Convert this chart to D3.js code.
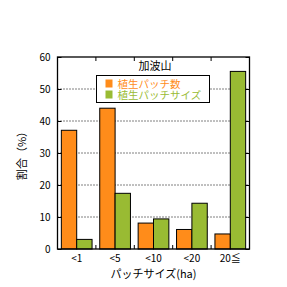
<!DOCTYPE html>
<html>
<head>
<meta charset="utf-8">
<script src="https://cdn.jsdelivr.net/npm/d3@7"></script>
<style>
  body { margin: 0; background: #fff; overflow: hidden; }
  svg { display: block; }
  text { font-family: "Noto Sans CJK JP", sans-serif; }
</style>
</head>
<body>
<div id="chart"></div>
<script>
// data
const categories = ['<1', '<5', '<10', '<20', '20≦'];
const series = ['植生パッチ数', '植生パッチサイズ'];
const patchCount = [37.1, 44.0, 8.1, 6.1, 4.7];
const patchSize = [3.0, 17.4, 9.4, 14.3, 55.5];
const yTicks = [0, 10, 20, 30, 40, 50, 60];
const colors = ['#ff8c1a', '#99bb33'];

const width = 287, height = 287;
const margin = {top: 57, right: 37.5, bottom: 38, left: 57.5};
const innerWidth = width - margin.left - margin.right;
const innerHeight = height - margin.top - margin.bottom;

let svg = d3.select('#chart')
    .append('svg')
        .attr('width', width)
        .attr('height', height);
let plotG = svg.append('g')
    .attr('transform', `translate(${margin.left}, ${margin.top})`);

var x = d3.scaleBand()
    .domain(categories)
    .range([0, innerWidth])
    .paddingInner(0.2)
    .paddingOuter(0.1);

var xSub = d3.scaleBand()
    .domain(series)
    .range([0, x.bandwidth()]);

var y = d3.scaleLinear()
    .domain([0, 60])
    .range([innerHeight, 0]);

// dotted grid
plotG.selectAll('.grid')
    .data(yTicks.filter(d => d > 0 && d < 60))
    .join('line')
        .attr('x1', 0).attr('x2', innerWidth)
        .attr('y1', d => y(d)).attr('y2', d => y(d))
        .attr('stroke', '#000')
        .attr('stroke-width', 1)
        .attr('stroke-dasharray', '1,2');

// bars
let rows = categories.map((c, i) => ({cat: c, values: [patchCount[i], patchSize[i]]}));
let groups = plotG.selectAll('.grp')
    .data(rows)
    .join('g')
        .attr('transform', d => `translate(${x(d.cat)},0)`);
groups.selectAll('rect')
    .data(d => d.values.map((v, k) => ({s: series[k], v: v, k: k})))
    .join('rect')
        .attr('x', d => xSub(d.s))
        .attr('y', d => y(d.v))
        .attr('width', xSub.bandwidth())
        .attr('height', d => innerHeight - y(d.v))
        .attr('fill', d => colors[d.k])
        .attr('stroke', '#000')
        .attr('stroke-width', 1);

// frame
plotG.append('rect')
    .attr('width', innerWidth).attr('height', innerHeight)
    .attr('fill', 'none').attr('stroke', '#000').attr('stroke-width', 1.3);

// category boundary ticks (top and bottom)
let step = x.step();
let bounds = d3.range(1, categories.length);
plotG.selectAll('.tb')
    .data(bounds)
    .join('line')
        .attr('x1', d => d * step).attr('x2', d => d * step)
        .attr('y1', 0).attr('y2', 4)
        .attr('stroke', '#000');
plotG.selectAll('.bb')
    .data(bounds)
    .join('line')
        .attr('x1', d => d * step).attr('x2', d => d * step)
        .attr('y1', innerHeight).attr('y2', innerHeight - 4)
        .attr('stroke', '#000');

// y axis
let yAxis = d3.axisLeft(y).tickValues(yTicks).tickSize(-4).tickPadding(7);
let yG = plotG.append('g').call(yAxis);
yG.select('.domain').remove();
yG.selectAll('text').attr('font-size', 10).attr('font-family', 'DejaVu Sans, sans-serif');
let yAxisR = d3.axisRight(y).tickValues(yTicks).tickSize(-4);
let yR = plotG.append('g').attr('transform', `translate(${innerWidth},0)`).call(yAxisR);
yR.select('.domain').remove();
yR.selectAll('text').remove();

// x labels
plotG.selectAll('.xl')
    .data(categories)
    .join('text')
        .attr('x', d => x(d) + x.bandwidth() / 2)
        .attr('y', innerHeight + 13)
        .attr('text-anchor', 'middle')
        .attr('font-size', 10)
        .text(d => d);

// axis titles
svg.append('text')
    .attr('x', margin.left + innerWidth / 2)
    .attr('y', 278)
    .attr('text-anchor', 'middle')
    .attr('font-size', 11)
    .text('パッチサイズ(ha)');
svg.append('text')
    .attr('transform', `translate(26, ${margin.top + innerHeight / 2}) rotate(-90)`)
    .attr('text-anchor', 'middle')
    .attr('font-size', 11)
    .text('割合（%）');

// title
svg.append('text')
    .attr('x', 155).attr('y', 70)
    .attr('text-anchor', 'middle')
    .attr('font-size', 11)
    .text('加波山');

// legend
let lg = svg.append('g').attr('transform', 'translate(96.5,75.5)');
lg.append('rect')
    .attr('width', 113).attr('height', 27)
    .attr('fill', '#fff').attr('stroke', '#000');
series.forEach((s, k) => {
    lg.append('rect')
        .attr('x', 9).attr('y', 4 + k * 11)
        .attr('width', 7).attr('height', 8)
        .attr('fill', colors[k]);
    lg.append('text')
        .attr('x', 21).attr('y', 12 + k * 11)
        .attr('font-size', 10.5)
        .attr('fill', colors[k])
        .text(s);
});
</script>
</body>
</html>
